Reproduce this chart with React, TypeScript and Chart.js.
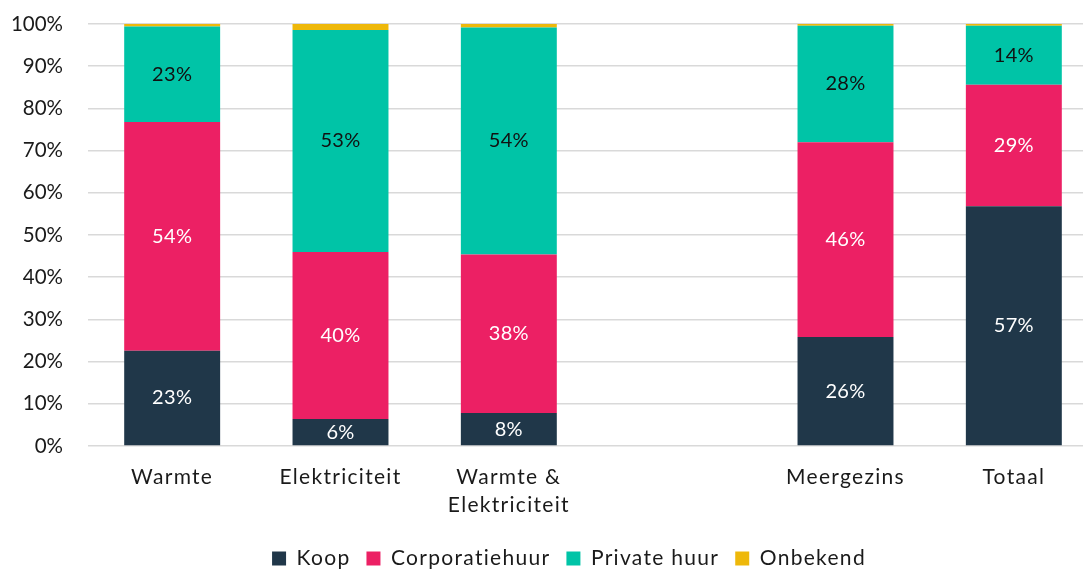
import React, { useEffect, useRef } from "react";
import { Chart, registerables } from "chart.js";

Chart.register(...registerables);

const categories: (string | string[])[] = [
  "Warmte",
  "Elektriciteit",
  ["Warmte &", "Elektriciteit"],
  "",
  "Meergezins",
  "Totaal",
];
const koop = [22.6, 6.4, 7.8, null, 25.8, 56.8];
const corporatiehuur = [54.2, 39.6, 37.6, null, 46.2, 28.8];
const privateHuur = [22.6, 52.6, 53.8, null, 27.6, 14.0];
const onbekend = [0.6, 1.4, 0.8, null, 0.4, 0.4];
const seriesNames = ["Koop", "Corporatiehuur", "Private huur", "Onbekend"];
const yTicks = [0, 10, 20, 30, 40, 50, 60, 70, 80, 90, 100];

const COLORS = ["#203749", "#EC2064", "#00C4A7", "#EEB80A"];
const LABEL_COLORS = ["#ffffff", "#ffffff", "#111111", null];
const FONT = "Lato, 'Open Sans', sans-serif";

const spacingPlugin = {
  id: "spacing",
  beforeUpdate(chart: any) {
    chart.ctx.letterSpacing = "1.3px";
  },
  afterLayout(chart: any) {
    const l = chart.legend;
    if (l) {
      l.left += 20;
      l.right += 20;
    }
  },
  beforeDraw(chart: any) {
    chart.ctx.letterSpacing = "1.3px";
    const y: any = chart.scales.y;
    if (y && !y._wrappedLabels) {
      const orig = y.drawLabels;
      y.drawLabels = function (area: any) {
        this.ctx.save();
        this.ctx.letterSpacing = "0px";
        orig.call(this, area);
        this.ctx.restore();
      };
      y._wrappedLabels = true;
    }
  },
};

const valueLabels = {
  id: "valueLabels",
  afterDatasetsDraw(chart: any) {
    const ctx = chart.ctx;
    ctx.save();
    ctx.letterSpacing = "0.3px";
    ctx.font = `20px ${FONT}`;
    ctx.textAlign = "center";
    ctx.textBaseline = "middle";
    chart.data.datasets.forEach((ds: any, di: number) => {
      const color = LABEL_COLORS[di];
      if (!color) return;
      const meta = chart.getDatasetMeta(di);
      meta.data.forEach((el: any, i: number) => {
        const v = ds.data[i];
        if (v == null) return;
        ctx.fillStyle = color;
        ctx.fillText(`${Math.round(v)}%`, el.x, (el.y + el.base) / 2);
      });
    });
    ctx.restore();
  },
};

export default function App() {
  const ref = useRef<HTMLCanvasElement>(null);
  useEffect(() => {
    if (!ref.current) return;
    const data = [koop, corporatiehuur, privateHuur, onbekend];
    const chart = new Chart(ref.current, {
      type: "bar",
      data: {
        labels: categories as any,
        datasets: data.map((d, i) => ({
          label: seriesNames[i],
          data: d as any,
          backgroundColor: COLORS[i],
          borderWidth: 0,
          categoryPercentage: 1,
          barPercentage: 0.57,
        })),
      },
      options: {
        responsive: false,
        animation: false,
        layout: { padding: { top: 24, right: 42, left: 0, bottom: -10 } },
        plugins: {
          tooltip: { enabled: false },
          legend: {
            position: "bottom",
            labels: {
              boxWidth: 14,
              boxHeight: 14,
              padding: 16,
              color: "#1a1a1a",
              font: { family: FONT, size: 21 },
            },
          },
        },
        scales: {
          x: {
            stacked: true,
            grid: { display: false },
            border: { display: false },
            ticks: {
              color: "#1a1a1a",
              padding: 9,
              font: { family: FONT, size: 21, lineHeight: 1.35 },
              maxRotation: 0,
              autoSkip: false,
            },
            afterFit: (s: any) => {
              s.height = 86;
            },
          },
          y: {
            stacked: true,
            min: 0,
            max: 100,
            afterBuildTicks: (s: any) => {
              s.ticks = yTicks.map((v) => ({ value: v }));
            },
            grid: { color: "#d9d9d9", lineWidth: 1.5, drawTicks: false },
            border: { display: false },
            ticks: {
              color: "#1a1a1a",
              padding: 25,
              font: { family: FONT, size: 20.5, lineHeight: 1.2 },
              callback: (v: any) => `${v}%`,
            },
            afterFit: (s: any) => {
              s.width = 88;
              s.paddingTop = 0;
              s.paddingBottom = 0;
            },
          },
        },
      },
      plugins: [spacingPlugin, valueLabels],
    });
    return () => chart.destroy();
  }, []);
  return (
    <div
      style={{
        position: "fixed",
        left: 0,
        top: 0,
        width: 1083,
        height: 569,
        overflow: "hidden",
        background: "#fff",
      }}
    >
      <canvas ref={ref} width={1140} height={569} style={{ display: "block" }} />
    </div>
  );
}
